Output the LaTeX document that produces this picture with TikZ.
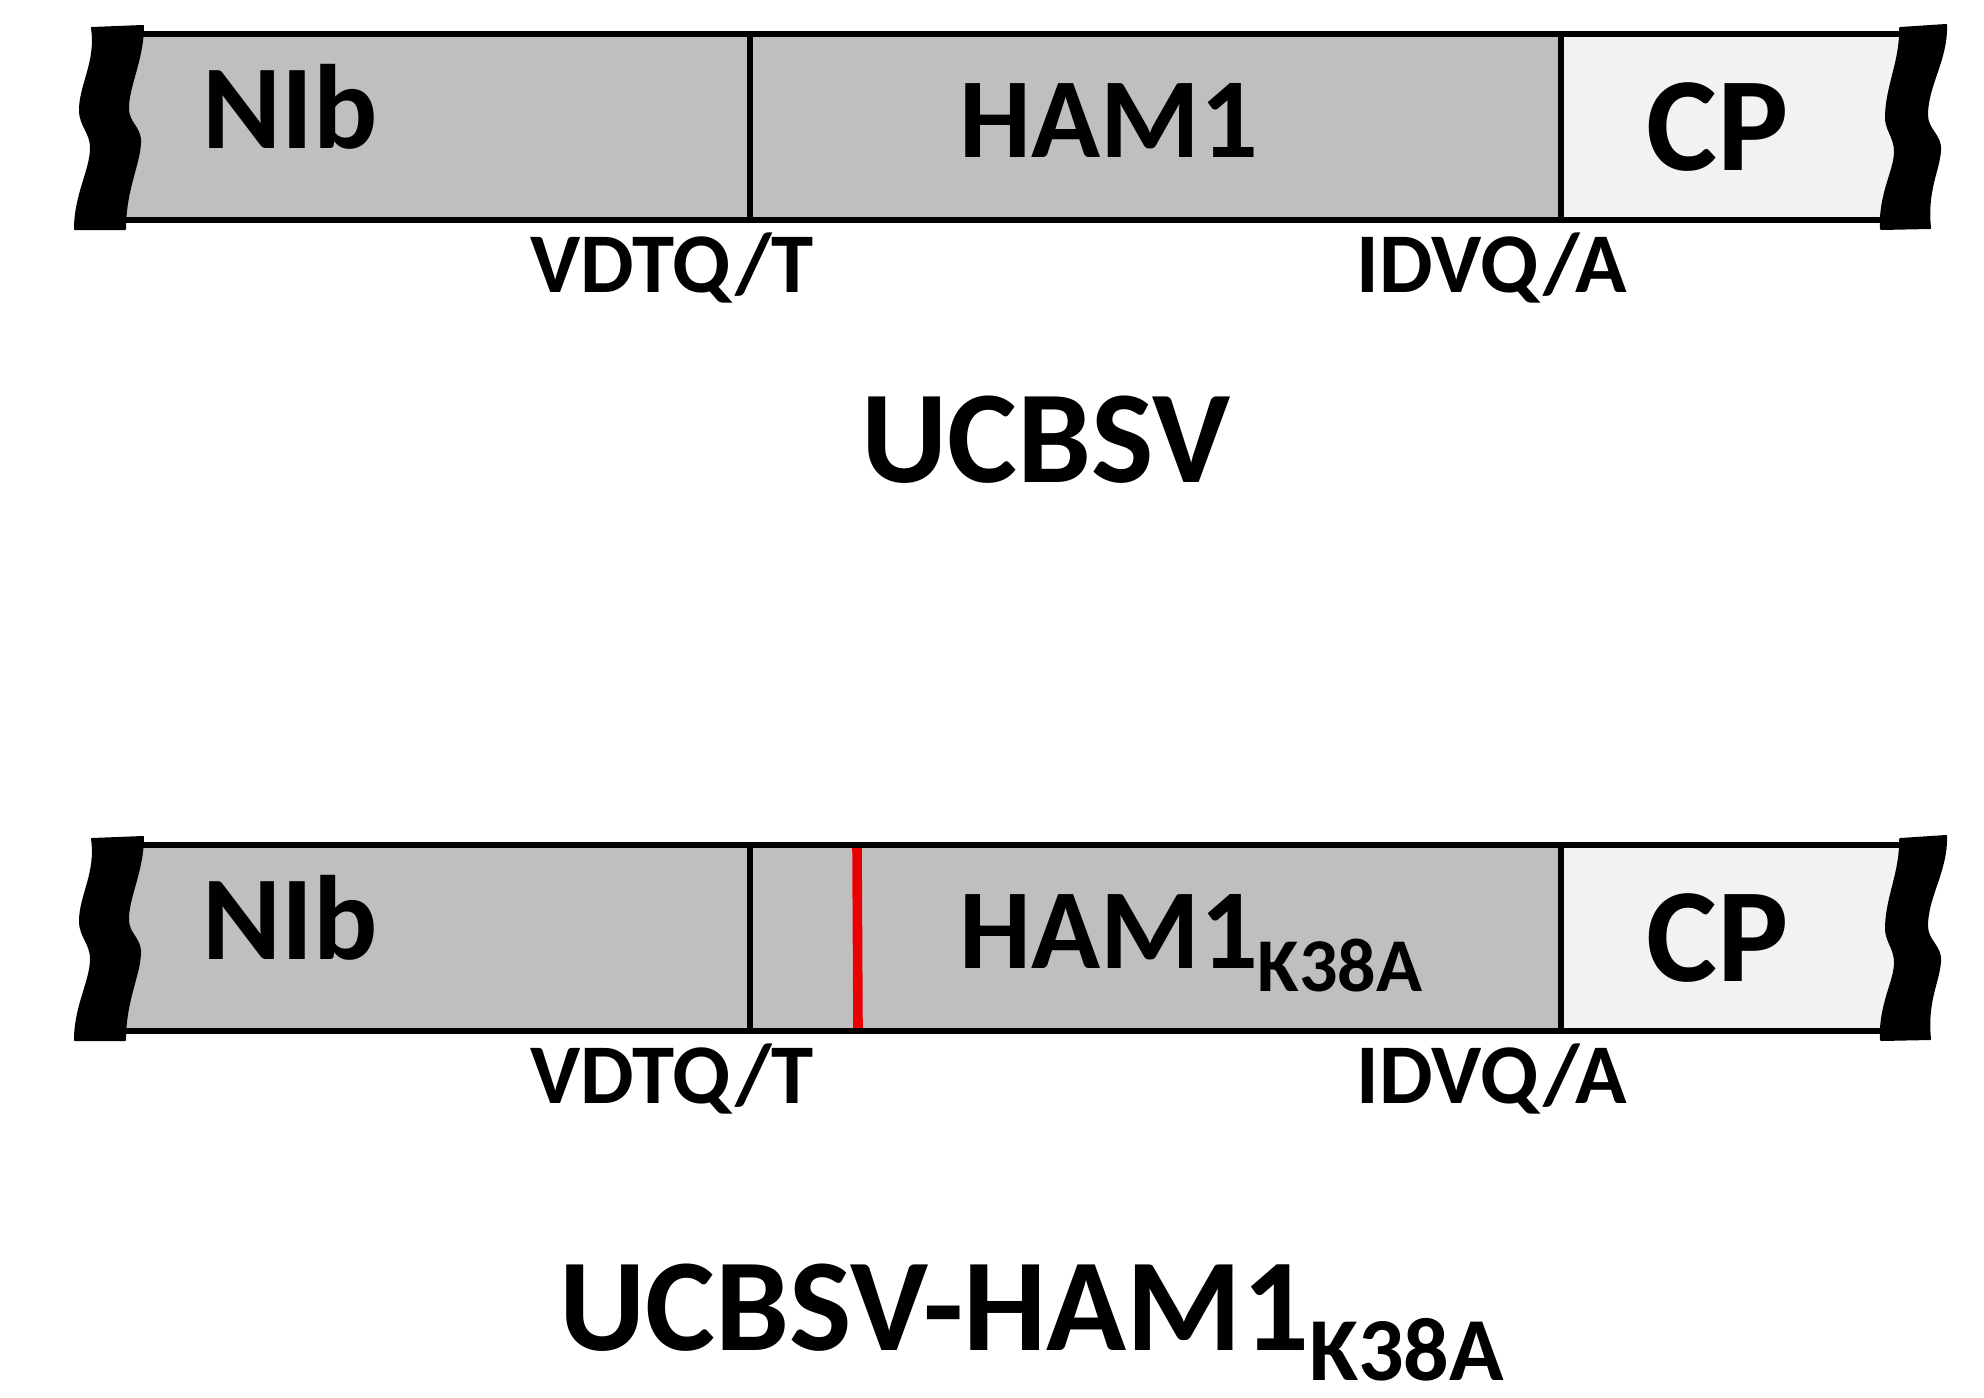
\documentclass[tikz,border=0pt]{standalone}
\usepackage{fontspec}
\setmainfont{Carlito}
\definecolor{segGray}{RGB}{191,191,191}
\definecolor{cpGray}{RGB}{242,242,242}
\definecolor{mutRed}{RGB}{235,0,0}
\begin{document}
\begin{tikzpicture}[x=0.5pt,y=-0.5pt]
\useasboundingbox (0,0) rectangle (1984,1397);
\tikzset{
  border/.style={draw=black,line width=3.4pt},
  txt/.style={inner sep=0pt,anchor=base},
  txtw/.style={inner sep=0pt,anchor=base west},
  fnib/.style={font=\bfseries\fontsize{60}{72}\selectfont},
  fham/.style={font=\bfseries\fontsize{57}{68}\selectfont},
  fcp/.style={font=\bfseries\fontsize{67}{80}\selectfont},
  flab/.style={font=\bfseries\fontsize{42.5}{50}\selectfont},
  ftitle/.style={font=\bfseries\fontsize{66}{80}\selectfont},
  wave/.style={fill=black,draw=black,line width=1pt,line join=round},
  mutation/.style={draw=mutRed,line width=4.8pt},
}
\newcommand{\genomebar}{%
  \fill[segGray] (120,34) rectangle (1561,220);
  \fill[cpGray] (1561,34) rectangle (1905,220);
}
\newcommand{\genomeborders}{%
  \draw[border] (120,34) -- (1905,34);
  \draw[border] (120,220) -- (1905,220);
  \draw[border] (750,34) -- (750,220);
  \draw[border] (1561,34) -- (1561,220);
  \filldraw[wave] (92,28) -- (143,26)
     .. controls (143,60) and (127,88) .. (128,110)
     .. controls (129,124) and (141,128) .. (140,143)
     .. controls (139,165) and (125,190) .. (125,229)
     -- (75,229)
     .. controls (75,195) and (91,170) .. (91,148)
     .. controls (91,132) and (80,126) .. (80,110)
     .. controls (80,85) and (97,62) .. (92,28) -- cycle;
  \filldraw[wave] (1900,28) -- (1946,25)
     .. controls (1947,60) and (1927,85) .. (1927,115)
     .. controls (1927,130) and (1941,135) .. (1940,150)
     .. controls (1939,170) and (1926,190) .. (1930,228)
     -- (1881,229)
     .. controls (1879,195) and (1895,170) .. (1895,152)
     .. controls (1895,136) and (1885,130) .. (1886,115)
     .. controls (1887,85) and (1901,60) .. (1900,28) -- cycle;
}
% ---- top genome (UCBSV)
\genomebar
\genomeborders
\node[txt,fnib] (nib1) at (290,148) {NIb};
\node[txtw,fham] (ham1) at (959,157) {HAM1};
\node[txt,fcp] (cp1) at (1718,170) {CP};
\node[txt,flab] (vdtq1) at (672,292) {VDTQ/T};
\node[txt,flab] (idvq1) at (1492,292) {IDVQ/A};
\node[txt,ftitle] (title1) at (1046,482) {UCBSV};
% ---- bottom genome (UCBSV-HAM1 K38A)
\begin{scope}[shift={(0,811)}]
\genomebar
\draw[mutation] (857,34) -- (858,220);
\genomeborders
\node[txt,fnib] (nib2) at (290,148) {NIb};
\node[txtw,fham] (ham2) at (959,157) {HAM1\raisebox{-11.5pt}[0pt][0pt]{\fontsize{38}{44}\selectfont K38A}};
\node[txt,fcp] (cp2) at (1718,170) {CP};
\node[txt,flab] (vdtq2) at (672,292) {VDTQ/T};
\node[txt,flab] (idvq2) at (1492,292) {IDVQ/A};
\end{scope}
\node[txtw,ftitle] (title2) at (559,1350) {UCBSV-HAM1\raisebox{-15pt}[0pt][0pt]{\fontsize{45}{52}\selectfont K38A}};
\end{tikzpicture}
\end{document}
